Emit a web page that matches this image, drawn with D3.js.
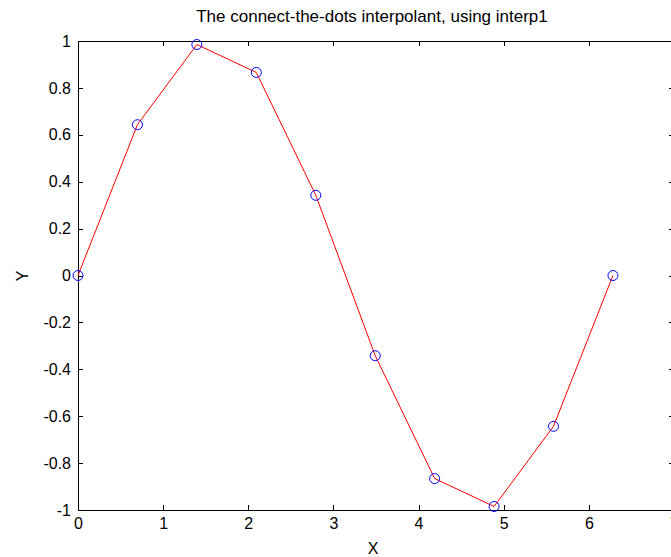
<!DOCTYPE html>
<html><head><meta charset="utf-8">
<script src="https://cdn.jsdelivr.net/npm/d3@7"></script>
<style>body{margin:0;background:#fff;} text{font-family:"Liberation Sans",Arial,sans-serif;}</style>
</head><body>
<script>
const xValues = [0, 0.698, 1.396, 2.094, 2.793, 3.491, 4.189, 4.887, 5.585, 6.283];
const yValues = [0, 0.643, 0.985, 0.866, 0.342, -0.342, -0.866, -0.985, -0.643, 0];
const xTicks = [0, 1, 2, 3, 4, 5, 6, 7];
const yTicks = [-1, -0.8, -0.6, -0.4, -0.2, 0, 0.2, 0.4, 0.6, 0.8, 1];
const titleText = "The connect-the-dots interpolant, using interp1";

(function(){
const W = 671, H = 557;
const mL = 78, mR = 674, mT = 41, mB = 510;
const svg = d3.select("body").append("svg").attr("width", W).attr("height", H);
const x = d3.scaleLinear().domain([0, 7]).range([mL, mR]);
const y = d3.scaleLinear().domain([-1, 1]).range([mB, mT]);
const tl = 5, fs = 16;

svg.append("rect").attr("x", mL).attr("y", mT).attr("width", mR-mL).attr("height", mB-mT)
  .attr("fill", "none").attr("stroke", "#000").attr("stroke-width", 1).attr("shape-rendering","crispEdges");

const xb = svg.append("g").attr("transform", `translate(0,${mB})`)
  .call(d3.axisBottom(x).tickValues(xTicks).tickSizeInner(-tl).tickSizeOuter(0).tickPadding(8).tickFormat(d3.format("d")));
const xt = svg.append("g").attr("transform", `translate(0,${mT})`)
  .call(d3.axisTop(x).tickValues(xTicks).tickSizeInner(-tl).tickSizeOuter(0).tickFormat(""));
const yl = svg.append("g").attr("transform", `translate(${mL},0)`)
  .call(d3.axisLeft(y).tickValues(yTicks).tickSizeInner(-tl).tickSizeOuter(0).tickPadding(7).tickFormat(d => String(d)));
const yr = svg.append("g").attr("transform", `translate(${mR},0)`)
  .call(d3.axisRight(y).tickValues(yTicks).tickSizeInner(-tl).tickSizeOuter(0).tickFormat(""));
[xb, xt, yl, yr].forEach(g => {
  g.select(".domain").remove();
  g.selectAll("line").attr("stroke", "#000").attr("shape-rendering","crispEdges");
  g.selectAll("text").attr("font-size", fs).attr("fill", "#000").attr("font-family", "'Liberation Sans',Arial,sans-serif");
});

svg.append("path").datum(xValues.map((v,i)=>[v,yValues[i]]))
  .attr("d", d3.line().x(d=>x(d[0])).y(d=>y(d[1])))
  .attr("fill","none").attr("stroke","#ff0000").attr("stroke-width",1);
svg.selectAll("circle.m").data(xValues.map((v,i)=>[v,yValues[i]])).enter().append("circle")
  .attr("cx", d=>x(d[0])).attr("cy", d=>y(d[1])).attr("r", 5)
  .attr("fill","none").attr("stroke","#0000ff").attr("stroke-width",1);

svg.append("text").attr("x", 372).attr("y", 22).attr("text-anchor","middle").attr("font-size", 17).text(titleText);
svg.append("text").attr("x", 373).attr("y", 554).attr("text-anchor","middle").attr("font-size", fs).text("X");
svg.append("text").attr("transform", "translate(28,276) rotate(-90)").attr("text-anchor","middle").attr("font-size", fs).text("Y");
})();
</script>
</body></html>
